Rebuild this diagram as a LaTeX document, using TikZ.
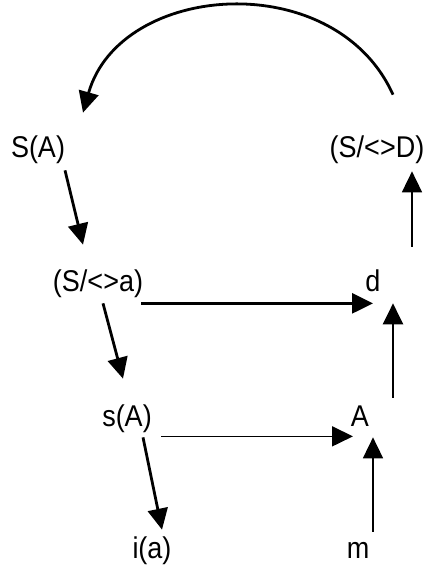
\documentclass[tikz,border=0pt]{standalone}
\usepackage{fontspec}
\setmainfont{Liberation Sans}[FakeStretch=0.9]
\usepackage{tikz}
\usetikzlibrary{arrows.meta}
\tikzset{
  term/.style={inner sep=0pt, font=\fontsize{30}{32}\selectfont,
    text height=22pt, text depth=6.3pt},
  arrow/.style={-{Triangle[length=21pt,width=20pt]}, line width=2.8pt, color=black},
  thinarrow/.style={-{Triangle[length=21pt,width=20pt]}, line width=1.7pt, color=black}
}
\begin{document}
\begin{tikzpicture}[x=1pt,y=1pt]
  \useasboundingbox (0,0) rectangle (434,-568);
  % Terms
  \node[term] (SA) at (38,-150) {S(A)};
  \node[term] (SD) at (377,-150) {(S/<>D)};
  \node[term] (Sa) at (98,-284) {(S/<>a)};
  \node[term] (d)  at (373,-284) {d};
  \node[term] (sA) at (127,-419) {s(A)};
  \node[term] (A)  at (360,-419) {A};
  \node[term] (ia) at (152,-551) {i(a)};
  \node[term] (m)  at (358,-551) {m};
  % Left column, going down
  \draw[arrow] ([xshift=27pt,yshift=-6pt]SA.south) -- ([xshift=-15pt,yshift=25pt]Sa.north);
  \draw[arrow] ([xshift=5pt,yshift=-5pt]Sa.south) -- ([xshift=-4pt,yshift=26pt]sA.north);
  \draw[arrow] ([xshift=16pt,yshift=-4pt]sA.south) -- ([xshift=10pt,yshift=7pt]ia.north);
  % Across
  \draw[arrow] ([xshift=43pt,yshift=-5pt]Sa.south) -- ([yshift=-5pt]d.south);
  \draw[thinarrow] ([xshift=34pt,yshift=-3pt]sA.south) -- ([xshift=-7pt,yshift=-3pt]A.south);
  % Right column, going up
  \draw[thinarrow] ([xshift=15pt,yshift=5pt]m.north) -- ([xshift=13pt,yshift=-4pt]A.south);
  \draw[arrow] ([xshift=33pt,yshift=7pt]A.north) -- ([xshift=20pt,yshift=-5pt]d.south);
  \draw[thinarrow] ([xshift=39pt,yshift=23pt]d.north) -- ([xshift=35pt,yshift=-7pt]SD.south);
  % Back to the start
  \draw[arrow] ([xshift=16pt,yshift=41pt]SD.north)
    .. controls (335,34) and (120,18) .. ([xshift=45pt,yshift=23pt]SA.north);
\end{tikzpicture}
\end{document}
